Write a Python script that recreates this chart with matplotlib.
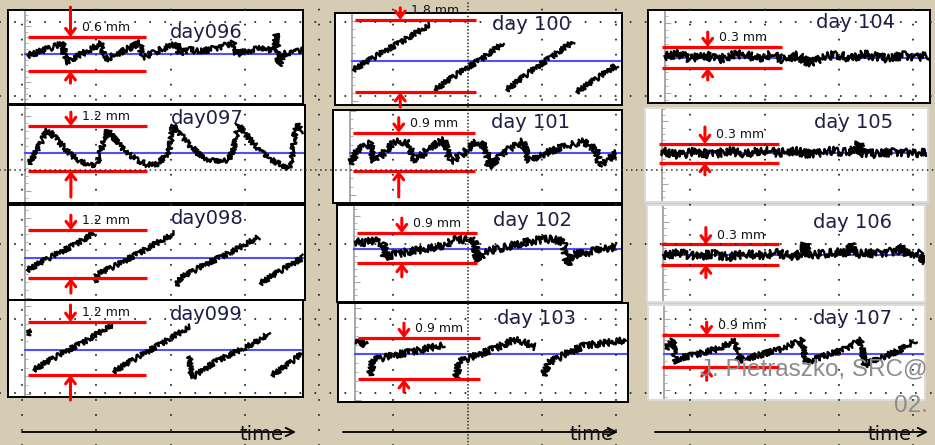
import numpy as np
import matplotlib.pyplot as plt

plt.rcParams['lines.scale_dashes'] = False

W, H = 935, 445
BG = '#d6ccb4'

# --- data: displacement (mm, relative to blue line) vs time of day (h) ---
days = ['day096', 'day097', 'day098', 'day099', 'day 100', 'day 101',
        'day 102', 'day 103', 'day 104', 'day 105', 'day 106', 'day 107']
amplitudes = ['0.6 mm', '1.2 mm', '1.2 mm', '1.2 mm', '1.8 mm', '0.9 mm',
              '0.9 mm', '0.9 mm', '0.3 mm', '0.3 mm', '0.3 mm', '0.9 mm']
red_top = [0.30, 0.72, 0.70, 0.64, 1.03, 0.48, 0.48, 0.35, 0.16, 0.14, 0.16, 0.53]
red_bottom = [-0.30, -0.48, -0.50, -0.57, -0.78, -0.43, -0.42, -0.55, -0.14, -0.16, -0.14, -0.37]

t096 = [[0.2, 1.2, 2.3, 3.3, 3.4, 4.5, 5.6, 6.6, 6.8, 7.9, 8.9, 9.9, 10.1, 11.2, 12.2, 13.1, 13.3,
         14.2, 15.1, 16.2, 17.1, 18.0, 18.2, 19.3, 20.4, 21.1, 21.6, 21.7, 21.9, 22.3, 23.0, 23.9]]
y096 = [[-0.02, 0.04, 0.12, 0.19, -0.14, -0.04, 0.08, 0.2, -0.1, 0.0, 0.1, 0.2, -0.06, 0.04, 0.12, 0.2, 0.02,
         0.08, 0.04, 0.1, 0.14, 0.2, 0.0, 0.06, 0.1, 0.08, 0.12, 0.36, -0.2, 0.0, 0.04, 0.06]]

t097 = [[0.29, 1.0, 1.87, 3.02, 3.88, 4.75, 5.61, 6.19, 6.47, 7.05, 8.2, 9.35, 10.5, 11.37, 11.94, 12.37,
         12.66, 13.95, 15.1, 16.25, 17.4, 17.84, 18.27, 19.7, 20.86, 22.0, 22.58, 22.87, 23.15, 23.45, 23.59]]
y097 = [[-0.28, 0.08, 0.63, 0.26, -0.05, -0.23, -0.32, -0.28, 0.08, 0.61, 0.17, -0.14, -0.32, -0.28, -0.1, 0.08,
         0.75, 0.26, -0.1, -0.23, -0.19, 0.08, 0.75, 0.21, -0.14, -0.32, -0.41, -0.14, 0.57, 0.79, 0.52]]

t098 = [[0.15, 2.0, 4.0, 5.9], [6.0, 6.1, 8.0, 10.5, 12.8], [12.95, 13.3, 15.5, 18.0, 20.0], [20.15, 22.0, 23.9]]
y098 = [[-0.30, 0.0, 0.3, 0.62], [-0.6, -0.42, -0.15, 0.25, 0.62], [-0.68, -0.5, -0.15, 0.2, 0.53], [-0.63, -0.3, 0.03]]

t099 = [[0.2, 0.45], [0.72, 3.0, 5.3, 7.48], [7.62, 10.0, 12.1, 14.24], [14.2, 14.35, 16.5, 19.0, 21.14], [21.3, 22.6, 23.9]]
y099 = [[0.35, 0.45], [-0.45, -0.1, 0.22, 0.57], [-0.49, -0.12, 0.2, 0.53], [-0.15, -0.64, -0.25, 0.05, 0.38], [-0.57, -0.35, -0.08]]

t100 = [[0.12, 2.5, 4.8, 6.93], [7.38, 9.5, 11.5, 13.45], [13.75, 15.7, 17.7, 19.67], [19.97, 21.7, 23.5]]
y100 = [[-0.22, 0.18, 0.55, 0.9], [-0.72, -0.3, 0.05, 0.44], [-0.72, -0.3, 0.1, 0.48], [-0.77, -0.45, -0.1]]

t101 = [[0.0, 0.71, 1.75, 2.19, 3.23, 3.97, 5.16, 5.75, 6.93, 8.27, 8.86, 10.05, 11.08, 11.97, 12.27, 13.45,
         15.23, 15.82, 17.31, 18.79, 20.56, 21.75, 22.04, 22.93, 23.53]]
y101 = [[-0.25, 0.07, 0.23, -0.21, 0.07, 0.27, 0.23, -0.21, 0.11, 0.31, -0.21, 0.0, 0.27, 0.15, -0.36, 0.0,
         0.27, -0.21, 0.0, 0.15, 0.27, 0.07, -0.33, -0.13, 0.0]]

t102 = [[0.12, 1.0, 1.8, 2.64, 2.78, 4.5, 6.5, 8.1, 9.2, 10.78, 11.08, 11.67, 13.5, 15.0, 16.4, 17.6, 18.79,
         19.08, 19.67, 21.0, 22.3, 23.53]]
y102 = [[0.22, 0.2, 0.25, 0.17, -0.23, -0.1, 0.0, 0.12, 0.3, 0.27, -0.38, -0.08, 0.05, 0.18, 0.27, 0.3, 0.22,
         -0.48, -0.18, -0.1, 0.0, 0.07]]

t103 = [[0.12, 0.6, 1.0], [1.3, 1.6, 3.5, 5.5, 7.82], [8.86, 9.16, 11.0, 12.5, 14.04, 15.0, 15.82],
        [16.56, 17.0, 18.5, 20.27, 21.75, 23.8]]
y103 = [[0.31, 0.25, 0.2], [-0.46, -0.13, -0.02, 0.08, 0.2], [-0.53, -0.17, 0.0, 0.15, 0.31, 0.25, 0.16],
        [-0.46, -0.2, 0.0, 0.2, 0.23, 0.31]]

t104 = [[0.0, 1.2, 2.4, 3.6, 4.8, 6.0, 7.2, 8.4, 9.6, 10.8, 12.0, 13.2, 14.4, 15.6, 16.8, 18.0, 19.2, 20.4,
         21.6, 22.8, 23.8]]
y104 = [[0.03, 0.06, -0.01, 0.05, -0.02, 0.04, 0.06, 0.0, 0.05, -0.02, 0.04, -0.08, 0.03, 0.05, 0.0, 0.06,
         0.02, -0.01, 0.05, 0.01, 0.04]]

t105 = [[0.0, 1.5, 3.0, 4.5, 6.0, 7.5, 9.0, 10.5, 12.0, 13.5, 15.0, 16.5, 17.6, 17.8, 18.0, 19.5, 21.0, 22.5, 23.8]]
y105 = [[0.03, -0.04, 0.02, -0.03, 0.03, -0.02, 0.04, 0.0, 0.03, -0.03, 0.04, 0.01, 0.05, 0.16, 0.0, -0.02,
         0.02, -0.01, 0.0]]

t106 = [[0.0, 1.5, 3.0, 4.5, 6.0, 7.5, 9.0, 10.5, 12.0, 12.9, 13.0, 13.2, 15.0, 17.1, 17.2, 17.4, 19.5,
         21.6, 21.7, 21.9, 23.4, 23.9]]
y106 = [[0.0, 0.03, -0.02, 0.02, -0.03, 0.02, 0.0, 0.03, -0.02, 0.04, 0.18, 0.0, 0.03, 0.05, 0.18, 0.02, 0.03,
         0.06, 0.15, 0.03, 0.02, -0.12]]

t107 = [[0.15, 0.76, 1.07, 1.37, 3.0, 5.0, 6.55, 6.85, 8.5, 10.5, 12.63, 13.1, 14.5, 16.3, 18.1, 18.42,
         20.0, 21.6, 23.1]]
y107 = [[0.16, 0.39, -0.26, -0.12, 0.0, 0.15, 0.39, -0.17, -0.05, 0.12, 0.39, -0.22, -0.08, 0.1, 0.39, -0.31,
         -0.1, 0.1, 0.39]]

times = [t096, t097, t098, t099, t100, t101, t102, t103, t104, t105, t106, t107]
vals = [y096, y097, y098, y099, y100, y101, y102, y103, y104, y105, y106, y107]

# --- layout (pixel boxes: left, top, right, bottom) ---
boxes = [(8, 10, 303, 104), (8, 105, 305, 203), (8, 205, 305, 300), (8, 300, 303, 397),
         (335, 13, 622, 105), (333, 110, 622, 203), (337, 205, 622, 302), (338, 303, 628, 402),
         (648, 10, 930, 103), (645, 108, 928, 202), (647, 205, 925, 302), (648, 305, 925, 400)]
ylims = [(-0.88, 0.78), (-1.33, 1.28), (-1.05, 1.33), (-1.07, 1.14),
         (-1.1, 1.2), (-1.19, 1.02), (-1.6, 1.33), (-1.05, 1.12),
         (-0.64, 0.69), (-0.78, 0.71), (-0.7, 0.75), (-1.29, 1.38)]
edges = ['black'] * 9 + ['#dcdcdc'] * 3
fuzz = [3.0, 2.6, 2.6, 2.6, 2.6, 3.4, 3.8, 3.4, 4.2, 4.2, 4.2, 3.0]
down_len = [21.6, 10, 10.8, 12.2, 8.6, 10.8, 10.8, 10.8, 10.8, 12.2, 12.2, 9.4]
up_len = [8.6, 18.7, 10.8, 18, 10.8, 18.7, 10, 9.4, 8.6, 8.6, 9.4, 9.4]
label_dy = [23, 13, 14, 15, 12, 12, 15, 15, 13, 15, 18, 13]
red_span = [(0.2, 10.4), (0.3, 11.0), (-0.2, 10.6)]
arrow_x = [3.9, 4.3, 3.9]
label_x = [0.55, 0.547, 0.596]

fig = plt.figure(figsize=(W / 100, H / 100), dpi=100, facecolor=BG)
frac = 1.5 / 25.5

for i in range(12):
    l, t, r, b = boxes[i]
    col = i // 4
    ax = fig.add_axes([l / W, 1 - b / H, (r - l) / W, (b - t) / H])
    ax.set_xlim(-1.5, 24)
    ax.set_ylim(*ylims[i])
    ax.set_xticks([])
    ax.set_yticks([])
    for s in ax.spines.values():
        s.set_color(edges[i])
        s.set_linewidth(1.4)

    sec = ax.secondary_yaxis(frac)
    for s in sec.spines.values():
        s.set_color('#9a9a9a')
        s.set_linewidth(1.2)
    sec.minorticks_on()
    sec.tick_params(which='both', direction='in', colors='#a8a8a8', labelleft=False, labelright=False)
    sec.tick_params(which='major', length=4)
    sec.tick_params(which='minor', length=2)

    ax.axhline(0, xmin=frac, color='#4f4fff', lw=1.5, zorder=2)
    for xs, ys in zip(times[i], vals[i]):
        ln, = ax.plot(xs, ys, color='black', lw=1.7, zorder=3)
        ln.set_sketch_params(fuzz[i], 1.5, 2.5)

    x0, x1 = red_span[col]
    ax.hlines([red_top[i], red_bottom[i]], x0, x1, color='red', lw=2.3, zorder=4)
    xa = arrow_x[col]
    arrow = dict(arrowstyle='->,head_length=0.45,head_width=0.35', color='red', lw=2.2,
                 shrinkA=0, shrinkB=0)
    ax.annotate('', xy=(xa, red_top[i]), xytext=(0, down_len[i]), textcoords='offset points',
                arrowprops=arrow, zorder=5)
    ax.annotate('', xy=(xa, red_bottom[i]), xytext=(0, -up_len[i]), textcoords='offset points',
                arrowprops=arrow, zorder=5)
    ax.annotate(amplitudes[i], xy=(xa, red_top[i]), xytext=(8, 2), textcoords='offset points',
                fontsize=9, color='#111111', va='bottom', zorder=6)
    ax.text(label_x[col], 1 - label_dy[i] / (b - t), days[i], transform=ax.transAxes,
            fontsize=14, color='#1e1e46', va='center', zorder=6)

# --- slide decoration: dotted grid, time arrows, credit ---
ov = fig.add_axes([0, 0, 1, 1], zorder=10)
ov.set_xlim(0, W)
ov.set_ylim(H, 0)
ov.axis('off')
ov.patch.set_alpha(0)

dot = dict(color='#2b2b2b', lw=1.5, dash_capstyle='round')
for gx in 22 + 74.25 * np.arange(13):
    if abs(gx - 467.5) > 1:
        ov.axvline(gx, ls=(0, (0.01, 10.8)), **dot)
for gy in 21.5 + 74.25 * np.arange(6):
    if abs(gy - 170) > 1:
        ov.axhline(gy, ls=(0, (0.01, 10.8)), **dot)
ov.axhline(170, ls=(0, (0.01, 3.6)), color='#2b2b2b', lw=1.3, dash_capstyle='round')
ov.axvline(467.5, ls=(0, (0.01, 2.4)), color='#2b2b2b', lw=1.3, dash_capstyle='round')

for xs, xe, xt in [(22, 296, 240), (343, 618, 570), (655, 928, 867)]:
    ov.annotate('', xy=(xe, 432), xytext=(xs, 432),
                arrowprops=dict(arrowstyle='->,head_length=0.6,head_width=0.3', lw=1.3,
                                color='black', shrinkA=0, shrinkB=0))
    ov.text(xt, 440, 'time', fontsize=14, color='#111111', va='baseline')

ov.text(928, 375, 'J. Pietraszko, SRC@', fontsize=17.5, family='Liberation Sans',
        color='#8c8c8c', va='baseline', ha='right')
ov.text(928, 412, '02.', fontsize=17.5, family='Liberation Sans', color='#8c8c8c',
        va='baseline', ha='right')

fig.savefig('out.png', dpi=100, facecolor=BG)
